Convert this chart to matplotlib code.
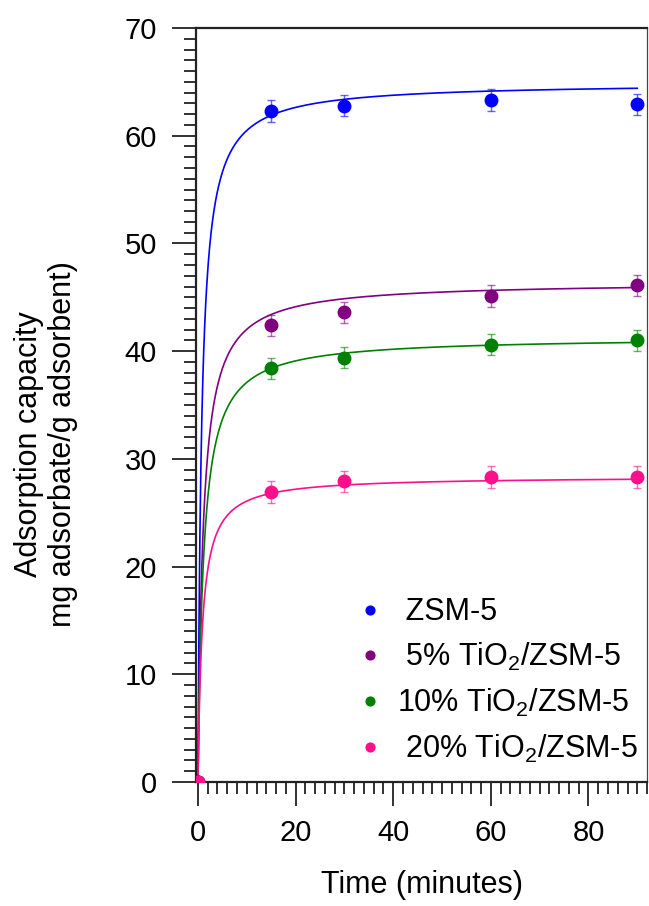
import numpy as np
import matplotlib.pyplot as plt
from matplotlib.ticker import MultipleLocator

plt.rcParams['font.family'] = ['Liberation Sans', 'DejaVu Sans']
plt.rcParams['mathtext.fontset'] = 'custom'
plt.rcParams['mathtext.rm'] = 'Liberation Sans'

# sampling times (min) and measured uptake (mg/g)
t_meas = [0, 15, 30, 60, 90]
q_zsm = [0, 62.3, 62.8, 63.3, 62.9]
q_ti5 = [0, 42.4, 43.6, 45.1, 46.1]
q_ti10 = [0, 38.4, 39.4, 40.6, 41.0]
q_ti20 = [0, 26.9, 27.9, 28.3, 28.3]
err = [0, 1.0, 1.0, 1.0, 1.0]

# pseudo-second-order fit parameters: qe (mg/g), k (g/mg/min)
qe_fit = [64.93, 46.44, 41.32, 28.38]
k_fit = [0.02095, 0.0205, 0.02125, 0.03992]

labels = [' ZSM-5', r' 5% TiO$_2$/ZSM-5', r'10% TiO$_2$/ZSM-5', r' 20% TiO$_2$/ZSM-5']
colors = ['#0000FF', '#800080', '#008000', '#FF0F8C']
series = [q_zsm, q_ti5, q_ti10, q_ti20]

fig = plt.figure(figsize=(6.49, 9.06), dpi=100)
ax = fig.add_axes([0.302, 0.1369, 0.695, 0.8322])

t_fit = np.linspace(0, 90, 900)
for q, qe, k, c, lab in zip(series, qe_fit, k_fit, colors, labels):
    q_model = qe**2 * k * t_fit / (1 + qe * k * t_fit)
    ax.plot(t_fit, q_model, color=c, lw=1.2, zorder=2)
    ax.errorbar(t_meas, q, yerr=err, fmt='none', ecolor=c, alpha=0.6,
                elinewidth=1.0, capsize=3.2, capthick=1.0, zorder=3)
    ax.plot(t_meas, q, 'o', color=c, ms=9, label=lab, zorder=4)

ax.set_xlim(-0.4, 92)
ax.set_ylim(0, 70)
ax.xaxis.set_major_locator(MultipleLocator(20))
ax.xaxis.set_minor_locator(MultipleLocator(2))
ax.yaxis.set_major_locator(MultipleLocator(10))
ax.yaxis.set_minor_locator(MultipleLocator(1))

ax.tick_params(which='major', direction='out', length=17, width=1.3,
               labelsize=21, color='#222222')
ax.tick_params(which='minor', direction='out', length=8.5, width=1.3,
               color='#222222')
ax.tick_params(axis='x', which='major', pad=10)
ax.tick_params(axis='y', which='major', pad=11)

for s in ['left', 'bottom', 'top']:
    ax.spines[s].set_linewidth(1.6)
    ax.spines[s].set_color('#222222')
ax.spines['right'].set_linewidth(0.9)
ax.spines['right'].set_color('#444444')

ax.set_xlabel('Time (minutes)', fontsize=22, labelpad=16)
ax.set_ylabel('Adsorption capacity\nmg adsorbate/g adsorbent)', fontsize=22,
              linespacing=1.15)
ax.yaxis.set_label_coords(-0.262, 0.448)

ax.legend(loc='lower right', bbox_to_anchor=(0.9934, 0.0146), frameon=False,
          fontsize=22, markerscale=0.7, handletextpad=0.4,
          handlelength=1.0, labelspacing=0.45, borderpad=0.2,
          borderaxespad=0)

fig.savefig('out.png', dpi=100)
